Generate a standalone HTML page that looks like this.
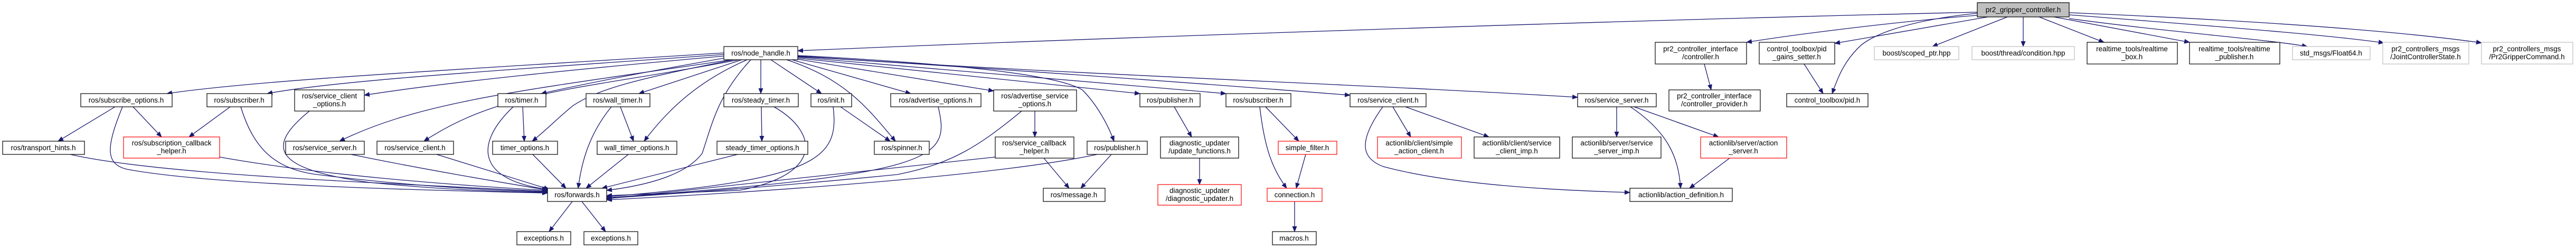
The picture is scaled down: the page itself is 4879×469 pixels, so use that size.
<!DOCTYPE html>
<html><head><meta charset="utf-8"><style>
html,body{margin:0;padding:0;background:#fff;}
svg{display:block;}
text{font-family:"Liberation Sans",sans-serif;font-size:13.5px;fill:#000;text-anchor:middle;}
.e{fill:none;stroke:#191970;stroke-width:1.3;marker-end:url(#a);}
.n{fill:#fff;stroke:#000;stroke-width:1.2;}
.r{fill:#fff;stroke:#f00;stroke-width:1.2;}
.g{fill:#fff;stroke:#bfbfbf;stroke-width:1.2;}
</style></head><body>
<svg width="4879" height="469" viewBox="0 0 4879 469" xmlns="http://www.w3.org/2000/svg">
<defs><marker id="a" markerWidth="11" markerHeight="9" refX="10" refY="4.5" orient="auto" markerUnits="userSpaceOnUse"><path d="M0,0 L11,4.5 L0,9 z" fill="#191970"/></marker></defs>
<g>
<!-- gripper edges -->
<path class="e" d="M3745,23 C3000,40 2000,75 1511,96"/>
<path class="e" d="M3745,29 C3600,40 3400,65 3308,80"/>
<path class="e" d="M3765,32 L3475,82"/>
<path class="e" d="M3745,25 C3600,40 3540,70 3520,90 C3490,120 3480,150 3470,177"/>
<path class="e" d="M3802,32 L3660,88"/>
<path class="e" d="M3832,32 L3832,88"/>
<path class="e" d="M3862,32 L3985,80"/>
<path class="e" d="M3890,32 L4147,80"/>
<path class="e" d="M3919,35 C4100,60 4300,75 4370,88"/>
<path class="e" d="M3919,28 C4200,50 4400,65 4515,81"/>
<path class="e" d="M3919,24 C4300,40 4550,60 4700,81"/>
<path class="e" d="M3228,121 L3241,170"/>
<path class="e" d="M3417,121 L3453,177"/>
<!-- node_handle edges -->
<path class="e" d="M1371,100 C900,130 500,150 316,177"/>
<path class="e" d="M1371,103 C1000,130 650,150 506,177"/>
<path class="e" d="M1371,106 C1100,130 850,155 690,180"/>
<path class="e" d="M1385,113 C1000,170 800,190 643,267"/>
<path class="e" d="M1400,113 C1100,170 950,170 803,267"/>
<path class="e" d="M1371,110 C1200,140 1100,160 1025,177"/>
<path class="e" d="M1390,113 C1200,150 1130,170 1085,200 C1060,220 1030,250 1008,267"/>
<path class="e" d="M1405,113 L1210,177"/>
<path class="e" d="M1415,113 C1330,150 1270,200 1220,267"/>
<path class="e" d="M1422,113 C1360,180 1350,230 1330,290 C1300,330 1230,350 1149,360"/>
<path class="e" d="M1441,113 L1441,177"/>
<path class="e" d="M1460,113 L1556,177"/>
<path class="e" d="M1490,113 C1600,150 1640,200 1696,267"/>
<path class="e" d="M1500,113 L1725,177"/>
<path class="e" d="M1511,112 L1882,172"/>
<path class="e" d="M1511,110 L2159,177"/>
<path class="e" d="M1511,105 C1800,120 2000,140 2050,170 C2080,200 2100,240 2110,267"/>
<path class="e" d="M1511,108 L2322,177"/>
<path class="e" d="M1511,107 C1900,130 2300,160 2557,180"/>
<path class="e" d="M1511,106 C2000,140 2600,160 2988,184"/>
<!-- to forwards -->
<path class="e" d="M232,202 C200,280 200,310 240,320 C400,350 800,360 1037,365"/>
<path class="e" d="M133,292 C300,330 700,345 1037,362"/>
<path class="e" d="M416,297 C600,330 850,350 1037,360"/>
<path class="e" d="M456,202 C480,280 520,320 600,330 C800,355 950,360 1037,363"/>
<path class="e" d="M586,210 C500,280 520,320 700,345 C850,360 950,362 1037,364"/>
<path class="e" d="M665,292 C800,320 950,345 1040,360"/>
<path class="e" d="M827,292 L1040,358"/>
<path class="e" d="M972,202 C900,270 900,340 1037,358"/>
<path class="e" d="M1009,292 L1072,356"/>
<path class="e" d="M1158,202 C1110,260 1100,320 1095,356"/>
<path class="e" d="M1190,292 L1110,356"/>
<path class="e" d="M1397,292 L1140,356"/>
<path class="e" d="M1466,202 C1550,250 1560,330 1400,360 L1149,370"/>
<path class="e" d="M1578,202 C1590,300 1550,340 1149,372"/>
<path class="e" d="M1777,202 C1800,300 1780,330 1149,374"/>
<path class="e" d="M1935,210 C1850,280 1800,310 1700,330 C1500,350 1300,365 1149,375"/>
<path class="e" d="M1885,297 L1149,376"/>
<path class="e" d="M2078,292 C1900,330 1500,360 1149,378"/>
<path class="e" d="M1084,381 L1040,438"/>
<path class="e" d="M1102,381 L1147,438"/>
<!-- misc -->
<path class="e" d="M218,202 L110,267"/>
<path class="e" d="M252,202 L306,259"/>
<path class="e" d="M436,202 L358,259"/>
<path class="e" d="M990,202 L993,267"/>
<path class="e" d="M1175,202 L1200,267"/>
<path class="e" d="M1442,202 L1443,267"/>
<path class="e" d="M1592,202 L1686,267"/>
<path class="e" d="M1960,210 L1960,259"/>
<path class="e" d="M1977,299 L2025,356"/>
<path class="e" d="M2105,292 L2047,356"/>
<path class="e" d="M2224,202 L2257,259"/>
<path class="e" d="M2272,299 L2272,349"/>
<path class="e" d="M2397,202 L2460,267"/>
<path class="e" d="M2386,202 C2395,280 2410,320 2437,356"/>
<path class="e" d="M2473,292 L2455,356"/>
<path class="e" d="M2452,381 L2452,438"/>
<path class="e" d="M2638,202 L2672,259"/>
<path class="e" d="M2662,202 L2820,259"/>
<path class="e" d="M2619,202 C2570,270 2580,300 2620,315 C2750,350 2950,360 3087,364"/>
<path class="e" d="M3062,202 L3062,259"/>
<path class="e" d="M3088,202 C3160,250 3180,300 3183,356"/>
<path class="e" d="M3095,202 L3255,259"/>
<path class="e" d="M3276,299 L3200,356"/>
</g>
<g>
<rect x="3745" y="5" width="174" height="27" fill="#bfbfbf" stroke="#000" stroke-width="1.2"/><text x="3832" y="23">pr2_gripper_controller.h</text>
<rect class="n" x="1371" y="88" width="140" height="25"/><text x="1441" y="105">ros/node_handle.h</text>
<rect class="n" x="3135" y="80" width="173" height="41"/><text x="3221" y="97">pr2_controller_interface</text><text x="3221" y="112">/controller.h</text>
<rect class="n" x="3332" y="80" width="143" height="41"/><text x="3403" y="97">control_toolbox/pid</text><text x="3403" y="112">_gains_setter.h</text>
<rect class="g" x="3550" y="88" width="160" height="25"/><text x="3630" y="105">boost/scoped_ptr.hpp</text>
<rect class="g" x="3735" y="88" width="194" height="25"/><text x="3832" y="105">boost/thread/condition.hpp</text>
<rect class="n" x="3953" y="80" width="171" height="41"/><text x="4038" y="97">realtime_tools/realtime</text><text x="4038" y="112">_box.h</text>
<rect class="n" x="4147" y="80" width="171" height="41"/><text x="4232" y="97">realtime_tools/realtime</text><text x="4232" y="112">_publisher.h</text>
<rect class="g" x="4342" y="88" width="147" height="25"/><text x="4415" y="105">std_msgs/Float64.h</text>
<rect class="g" x="4513" y="80" width="163" height="41"/><text x="4594" y="97">pr2_controllers_msgs</text><text x="4594" y="112">/JointControllerState.h</text>
<rect class="g" x="4700" y="80" width="173" height="41"/><text x="4786" y="97">pr2_controllers_msgs</text><text x="4786" y="112">/Pr2GripperCommand.h</text>
<rect class="n" x="3161" y="170" width="173" height="40"/><text x="3247" y="186">pr2_controller_interface</text><text x="3247" y="201">/controller_provider.h</text>
<rect class="n" x="3384" y="177" width="154" height="25"/><text x="3461" y="194">control_toolbox/pid.h</text>

<rect class="n" x="153" y="177" width="173" height="25"/><text x="239" y="194">ros/subscribe_options.h</text>
<rect class="n" x="392" y="177" width="123" height="25"/><text x="453" y="194">ros/subscriber.h</text>
<rect class="n" x="558" y="170" width="132" height="40"/><text x="624" y="186">ros/service_client</text><text x="624" y="201">_options.h</text>
<rect class="n" x="943" y="177" width="91" height="25"/><text x="988" y="194">ros/timer.h</text>
<rect class="n" x="1110" y="177" width="121" height="25"/><text x="1170" y="194">ros/wall_timer.h</text>
<rect class="n" x="1371" y="177" width="141" height="25"/><text x="1441" y="194">ros/steady_timer.h</text>
<rect class="n" x="1536" y="177" width="77" height="25"/><text x="1574" y="194">ros/init.h</text>
<rect class="n" x="1687" y="177" width="171" height="25"/><text x="1772" y="194">ros/advertise_options.h</text>
<rect class="n" x="1882" y="170" width="157" height="40"/><text x="1960" y="186">ros/advertise_service</text><text x="1960" y="201">_options.h</text>
<rect class="n" x="2159" y="177" width="114" height="25"/><text x="2216" y="194">ros/publisher.h</text>
<rect class="n" x="2322" y="177" width="123" height="25"/><text x="2383" y="194">ros/subscriber.h</text>
<rect class="n" x="2557" y="177" width="144" height="25"/><text x="2629" y="194">ros/service_client.h</text>
<rect class="n" x="2988" y="177" width="149" height="25"/><text x="3062" y="194">ros/service_server.h</text>

<rect class="n" x="5" y="267" width="155" height="25"/><text x="82" y="284">ros/transport_hints.h</text>
<rect class="r" x="234" y="259" width="182" height="40"/><text x="325" y="275">ros/subscription_callback</text><text x="325" y="290">_helper.h</text>
<rect class="n" x="541" y="267" width="149" height="25"/><text x="615" y="284">ros/service_server.h</text>
<rect class="n" x="714" y="267" width="145" height="25"/><text x="786" y="284">ros/service_client.h</text>
<rect class="n" x="933" y="267" width="123" height="25"/><text x="994" y="284">timer_options.h</text>
<rect class="n" x="1131" y="267" width="151" height="25"/><text x="1206" y="284">wall_timer_options.h</text>
<rect class="n" x="1358" y="267" width="172" height="25"/><text x="1444" y="284">steady_timer_options.h</text>
<rect class="n" x="1656" y="267" width="104" height="25"/><text x="1708" y="284">ros/spinner.h</text>
<rect class="n" x="1885" y="259" width="149" height="40"/><text x="1959" y="275">ros/service_callback</text><text x="1959" y="290">_helper.h</text>
<rect class="n" x="2059" y="267" width="114" height="25"/><text x="2116" y="284">ros/publisher.h</text>
<rect class="n" x="2198" y="259" width="148" height="40"/><text x="2272" y="275">diagnostic_updater</text><text x="2272" y="290">/update_functions.h</text>
<rect class="r" x="2421" y="267" width="111" height="25"/><text x="2476" y="284">simple_filter.h</text>
<rect class="r" x="2609" y="259" width="159" height="40"/><text x="2688" y="275">actionlib/client/simple</text><text x="2688" y="290">_action_client.h</text>
<rect class="n" x="2792" y="259" width="162" height="40"/><text x="2873" y="275">actionlib/client/service</text><text x="2873" y="290">_client_imp.h</text>
<rect class="n" x="2978" y="259" width="168" height="40"/><text x="3062" y="275">actionlib/server/service</text><text x="3062" y="290">_server_imp.h</text>
<rect class="r" x="3221" y="259" width="163" height="40"/><text x="3302" y="275">actionlib/server/action</text><text x="3302" y="290">_server.h</text>

<rect class="n" x="1037" y="356" width="112" height="25"/><text x="1093" y="373">ros/forwards.h</text>
<rect class="n" x="1976" y="356" width="117" height="25"/><text x="2034" y="373">ros/message.h</text>
<rect class="r" x="2193" y="349" width="158" height="39"/><text x="2272" y="365">diagnostic_updater</text><text x="2272" y="380">/diagnostic_updater.h</text>
<rect class="r" x="2400" y="356" width="104" height="25"/><text x="2452" y="373">connection.h</text>
<rect class="n" x="3087" y="356" width="194" height="25"/><text x="3184" y="373">actionlib/action_definition.h</text>

<rect class="n" x="979" y="438" width="102" height="25"/><text x="1030" y="455">exceptions.h</text>
<rect class="n" x="1106" y="438" width="102" height="25"/><text x="1157" y="455">exceptions.h</text>
<rect class="n" x="2410" y="438" width="83" height="25"/><text x="2451" y="455">macros.h</text>
</g>
</svg>
</body></html>
